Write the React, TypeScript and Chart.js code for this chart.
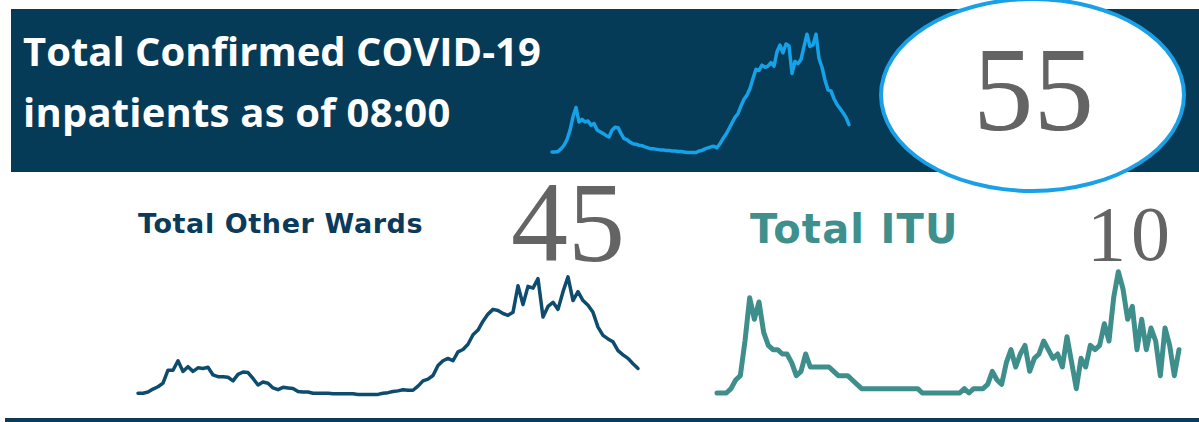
import React, { useEffect, useRef } from "react";
import { Chart, registerables } from "chart.js";

Chart.register(...registerables);

const totalValues = [
  2, 2, 3, 8, 15, 26, 44, 70, 88, 60,
  65, 60, 62, 54, 57, 45, 41, 38, 34, 31,
  44, 50, 49, 38, 28, 26, 21, 18, 17, 15,
  14, 12, 10, 8, 8, 7, 6, 6, 5, 5,
  4, 4, 3, 3, 2, 1, 1, 1, 1, 4,
  5, 8, 10, 12, 13, 10, 18, 28, 36, 47,
  58, 69, 76, 91, 104, 112, 125, 144, 162, 160,
  170, 166, 168, 175, 168, 196, 209, 194, 211, 207,
  154, 177, 173, 181, 206, 230, 206, 209, 230, 183,
  166, 141, 122, 120, 105, 94, 86, 78, 69, 55,
];

const wardValues = [
  3, 3, 5, 10, 14, 20, 42, 42, 58, 40,
  48, 40, 46, 45, 47, 34, 31, 31, 30, 24,
  35, 39, 38, 28, 17, 22, 20, 12, 9, 13,
  12, 11, 6, 5, 5, 3, 3, 3, 3, 2,
  2, 2, 2, 2, 1, 1, 1, 1, 1, 3,
  4, 6, 7, 9, 8, 8, 15, 24, 27, 33,
  50, 58, 62, 58, 73, 77, 86, 102, 110, 125,
  137, 145, 143, 138, 135, 140, 185, 153, 184, 181,
  197, 132, 150, 157, 145, 175, 200, 160, 175, 160,
  152, 140, 115, 101, 95, 90, 75, 68, 62, 53,
  45,
];

const ituValues = [
  0, 0, 0, 1, 3, 4, 12, 22, 17, 21,
  14, 11, 10, 10, 9, 9, 7, 4, 5, 9,
  6, 6, 6, 6, 6, 5, 4, 4, 4, 3,
  2, 1, 1, 1, 1, 1, 1, 1, 1, 1,
  1, 1, 1, 1, 0, 0, 0, 0, 0, 0,
  0, 0, 0, 1, 0, 1, 1, 1, 2, 5,
  3, 2, 7, 10, 6, 9, 11, 5, 8, 9,
  12, 10, 8, 9, 6, 13, 7, 1, 8, 6,
  11, 10, 11, 16, 12, 22, 28, 24, 17, 20,
  10, 17, 10, 15, 12, 4, 15, 11, 4, 10,
];

const titleLines = ["Total Confirmed COVID-19", "inpatients as of 08:00"];
const totalCount = "55";
const wardLabel = "Total Other Wards";
const wardCount = "45";
const ituLabel = "Total ITU";
const ituCount = "10";

const PAD = 6;

type SparkProps = {
  values: number[];
  color: string;
  lineWidth: number;
  left: number;
  top: number;
  w: number;
  h: number;
  max: number;
};

function Spark({ values, color, lineWidth, left, top, w, h, max }: SparkProps) {
  const ref = useRef<HTMLCanvasElement>(null);
  useEffect(() => {
    if (!ref.current) return;
    const chart = new Chart(ref.current, {
      type: "line",
      data: {
        labels: values.map((_, i) => String(i)),
        datasets: [
          {
            data: values,
            borderColor: color,
            borderWidth: lineWidth,
            pointRadius: 0,
            tension: 0,
            fill: false,
            borderJoinStyle: "round",
            borderCapStyle: "round",
            clip: false,
          } as any,
        ],
      },
      options: {
        animation: false,
        responsive: false,
        maintainAspectRatio: false,
        events: [],
        layout: { padding: PAD },
        plugins: { legend: { display: false }, tooltip: { enabled: false } },
        scales: {
          x: { display: false, offset: false },
          y: { display: false, min: 0, max },
        },
      },
    });
    return () => chart.destroy();
  }, [values, color, lineWidth, max]);
  return (
    <canvas
      ref={ref}
      width={w + 2 * PAD}
      height={h + 2 * PAD}
      style={{
        position: "absolute",
        left: left - PAD,
        top: top - PAD,
        width: w + 2 * PAD,
        height: h + 2 * PAD,
      }}
    />
  );
}

const abs = (s: React.CSSProperties): React.CSSProperties => ({
  position: "absolute",
  margin: 0,
  whiteSpace: "nowrap",
  lineHeight: 1,
  ...s,
});

export default function App() {
  return (
    <div
      style={{
        position: "fixed",
        left: 0,
        top: 0,
        width: 1199,
        height: 422,
        overflow: "hidden",
        background: "#ffffff",
      }}
    >
      {/* navy header band */}
      <div style={abs({ left: 11, top: 9, width: 1200, height: 163, background: "#063b57" })} />
      <div
        style={abs({
          left: 23,
          top: 31,
          fontFamily: "'Open Sans', sans-serif",
          fontWeight: 700,
          fontSize: 40,
          color: "#ffffff",
        })}
      >
        {titleLines[0]}
      </div>
      <div
        style={abs({
          left: 23,
          top: 92,
          fontFamily: "'Open Sans', sans-serif",
          fontWeight: 700,
          fontSize: 40,
          letterSpacing: 0.2,
          color: "#ffffff",
        })}
      >
        {titleLines[1]}
      </div>

      <Spark values={totalValues} color="#16a2e8" lineWidth={3.5} left={552} top={29} w={297} h={124} max={240} />

      {/* ellipse with total */}
      <div
        style={abs({
          left: 879,
          top: -3,
          width: 307,
          height: 196,
          boxSizing: "border-box",
          border: "4px solid #1aa0e6",
          borderRadius: "50%",
          background: "#ffffff",
        })}
      />
      <div
        style={abs({
          left: 973,
          top: 29,
          fontFamily: "'Liberation Serif', serif",
          fontSize: 121,
          color: "#646464",
        })}
      >
        {totalCount}
      </div>

      {/* Other wards */}
      <div
        style={abs({
          left: 138,
          top: 210,
          fontFamily: "'DejaVu Sans', sans-serif",
          fontWeight: 700,
          fontSize: 27,
          letterSpacing: 0.6,
          color: "#0b3a5a",
        })}
      >
        {wardLabel}
      </div>
      <div
        style={abs({
          left: 511,
          top: 166,
          fontFamily: "'Liberation Serif', serif",
          fontSize: 114,
          color: "#646464",
        })}
      >
        {wardCount}
      </div>
      <Spark values={wardValues} color="#0d4b6f" lineWidth={3.5} left={138} top={271} w={500} h={124} max={210} />

      {/* ITU */}
      <div
        style={abs({
          left: 750,
          top: 209,
          fontFamily: "'DejaVu Sans', sans-serif",
          fontWeight: 700,
          fontSize: 40,
          letterSpacing: 1.2,
          color: "#3f8f8d",
        })}
      >
        {ituLabel}
      </div>
      <div
        style={abs({
          left: 1087,
          top: 195,
          fontFamily: "'Liberation Serif', serif",
          fontSize: 78,
          letterSpacing: 5,
          color: "#646464",
        })}
      >
        {ituCount}
      </div>
      <Spark values={ituValues} color="#3e8f8c" lineWidth={5} left={717} top={263} w={462} h={130} max={30} />

      {/* bottom rule */}
      <div style={abs({ left: 5, top: 418, width: 1200, height: 4, background: "#0c3b58" })} />
    </div>
  );
}
